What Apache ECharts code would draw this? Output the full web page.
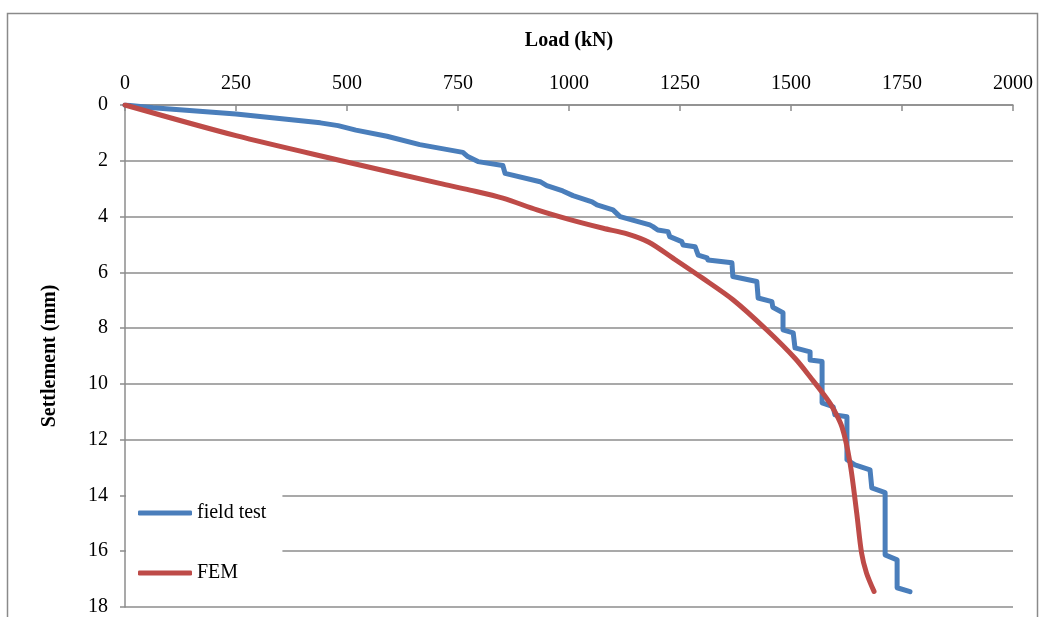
<!DOCTYPE html>
<html>
<head>
<meta charset="utf-8">
<script src="https://cdn.jsdelivr.net/npm/echarts@6/dist/echarts.min.js"></script>
<style>
  html, body { margin: 0; padding: 0; background: #fff; }
  #chart { width: 1039px; height: 617px; }
</style>
</head>
<body>
<div id="chart"></div>
<script>
// Load–settlement curves: measured (field test) vs. numerical model (FEM)
const fieldLoad = [0, 63, 250, 440, 480, 520, 590, 664, 761, 772,
  795, 851, 856, 935, 950, 986, 1009, 1052, 1063, 1099,
  1115, 1182, 1189, 1200, 1223, 1227, 1254, 1257, 1284, 1291,
  1311, 1313, 1367, 1369, 1423, 1426, 1457, 1459, 1482, 1482,
  1505, 1509, 1543, 1543, 1570, 1570, 1595, 1599, 1626, 1626,
  1644, 1678, 1682, 1712, 1712, 1739, 1739, 1768];
const fieldSettlement = [0, 0.1, 0.32, 0.64, 0.74, 0.9, 1.12, 1.42, 1.70, 1.85,
  2.03, 2.17, 2.45, 2.75, 2.89, 3.08, 3.25, 3.47, 3.58, 3.76,
  4.0, 4.30, 4.36, 4.48, 4.54, 4.72, 4.90, 5.02, 5.08, 5.38,
  5.48, 5.56, 5.66, 6.15, 6.33, 6.92, 7.05, 7.25, 7.45, 8.06,
  8.17, 8.71, 8.85, 9.14, 9.2, 10.68, 10.82, 11.11, 11.18, 12.72,
  12.90, 13.08, 13.73, 13.9, 16.13, 16.31, 17.31, 17.45];

const femLoad = [0, 250, 480, 709, 777, 851, 928, 1000, 1077, 1131,
  1180, 1235, 1300, 1370, 1445, 1510, 1548, 1570, 1592, 1615,
  1633, 1648, 1659, 1670, 1687];
const femSettlement = [0, 1.1, 1.97, 2.81, 3.05, 3.34, 3.76, 4.1, 4.42, 4.62,
  4.92, 5.5, 6.2, 6.99, 8.06, 9.1, 9.85, 10.3, 10.8, 11.55,
  12.84, 14.63, 16.07, 16.78, 17.44];

const loadTicks = { min: 0, max: 2000, interval: 250 };
const settlementTicks = { min: 0, max: 18, interval: 2 };

const zip = (xs, ys) => xs.map((x, i) => [x, ys[i]]);

const FONT = 'Liberation Serif';
const GRID_GREY = '#8c8c8c';

const chart = echarts.init(document.getElementById('chart'), null, { renderer: 'canvas' });

chart.setOption({
  backgroundColor: '#fff',
  animation: false,
  graphic: [{
    type: 'rect',
    left: 5, top: 11,
    shape: { width: 1030, height: 640 },
    style: { fill: 'none', stroke: '#8a8a8a', lineWidth: 1.5 },
    z: -1
  }],
  grid: { left: 125, right: 26, top: 105, bottom: 10, containLabel: false },
  xAxis: {
    type: 'value',
    position: 'top',
    min: loadTicks.min, max: loadTicks.max, interval: loadTicks.interval,
    name: 'Load (kN)',
    nameLocation: 'middle',
    nameGap: 54,
    nameTextStyle: { fontFamily: FONT, fontWeight: 'bold', fontSize: 20, color: '#000' },
    axisLine: { show: true, lineStyle: { color: GRID_GREY, width: 1.5 } },
    axisTick: { show: true, inside: true, length: 6, lineStyle: { color: GRID_GREY, width: 1.5 } },
    axisLabel: { fontFamily: FONT, fontSize: 20, color: '#000', margin: 11, formatter: v => String(v) },
    splitLine: { show: false }
  },
  yAxis: {
    type: 'value',
    inverse: true,
    min: settlementTicks.min, max: settlementTicks.max, interval: settlementTicks.interval,
    name: 'Settlement (mm)',
    nameLocation: 'middle',
    nameRotate: 90,
    nameGap: 65,
    nameTextStyle: { fontFamily: FONT, fontWeight: 'bold', fontSize: 20, color: '#000' },
    axisLine: { show: true, lineStyle: { color: GRID_GREY, width: 1.5 } },
    axisTick: { show: true, inside: false, length: 5, lineStyle: { color: GRID_GREY, width: 1.5 } },
    axisLabel: { fontFamily: FONT, fontSize: 20, color: '#000', margin: 17, formatter: v => String(v) },
    splitLine: { show: true, lineStyle: { color: GRID_GREY, width: 1.5 } }
  },
  legend: {
    orient: 'vertical',
    left: 126,
    top: 491,
    padding: [12, 16, 12, 12],
    backgroundColor: '#fff',
    itemWidth: 54,
    itemHeight: 5,
    itemGap: 40,
    icon: 'roundRect',
    textStyle: { fontFamily: FONT, fontSize: 20, color: '#000' },
    data: ['field test', 'FEM'],
    z: 10
  },
  series: [
    {
      name: 'field test',
      type: 'line',
      data: zip(fieldLoad, fieldSettlement),
      showSymbol: false,
      symbol: 'none',
      smooth: false,
      lineStyle: { color: '#4a7ebb', width: 5, cap: 'round', join: 'round' },
      itemStyle: { color: '#4a7ebb' },
      z: 3
    },
    {
      name: 'FEM',
      type: 'line',
      data: zip(femLoad, femSettlement),
      showSymbol: false,
      symbol: 'none',
      smooth: 0.3,
      lineStyle: { color: '#be4b48', width: 5, cap: 'round', join: 'round' },
      itemStyle: { color: '#be4b48' },
      z: 4
    }
  ]
});
</script>
</body>
</html>
